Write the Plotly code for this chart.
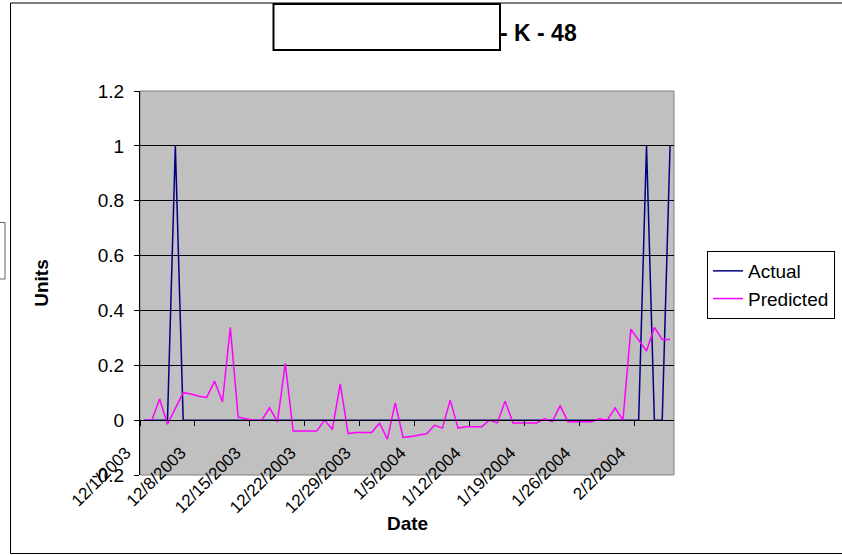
import plotly.graph_objects as go
import pandas as pd

# ---- data ----
dates = pd.date_range("2003-12-01", "2004-02-06", freq="D").strftime("%Y-%m-%d").tolist()

actual = [0, 0, 0, 0, 1, 0, 0, 0, 0, 0,
          0, 0, 0, 0, 0, 0, 0, 0, 0, 0,
          0, 0, 0, 0, 0, 0, 0, 0, 0, 0,
          0, 0, 0, 0, 0, 0, 0, 0, 0, 0,
          0, 0, 0, 0, 0, 0, 0, 0, 0, 0,
          0, 0, 0, 0, 0, 0, 0, 0, 0, 0,
          0, 0, 0, 0, 1, 0, 0, 1]

predicted = [0.0, 0.0, 0.077, -0.015, 0.043, 0.100, 0.095, 0.087, 0.083, 0.142,
             0.067, 0.338, 0.011, 0.006, 0.0, 0.0, 0.045, -0.006, 0.207, -0.040,
             -0.040, -0.040, -0.040, 0.0, -0.034, 0.132, -0.049, -0.045, -0.045, -0.045,
             -0.011, -0.069, 0.063, -0.063, -0.060, -0.056, -0.050, -0.019, -0.029, 0.073,
             -0.029, -0.024, -0.024, -0.024, 0.0, -0.010, 0.069, -0.010, -0.010, -0.010,
             -0.010, 0.005, -0.005, 0.053, -0.006, -0.006, -0.006, -0.006, 0.005, 0.0,
             0.045, 0.0, 0.332, 0.290, 0.252, 0.338, 0.294, 0.294]

tick_dates = ["2003-11-30 12:00", "2003-12-07 12:00", "2003-12-14 12:00", "2003-12-21 12:00",
              "2003-12-28 12:00", "2004-01-04 12:00", "2004-01-11 12:00", "2004-01-18 12:00",
              "2004-01-25 12:00", "2004-02-01 12:00"]
tick_labels = ["12/1/2003", "12/8/2003", "12/15/2003", "12/22/2003", "12/29/2003",
               "1/5/2004", "1/12/2004", "1/19/2004", "1/26/2004", "2/2/2004"]

y_ticks = [-0.2, 0, 0.2, 0.4, 0.6, 0.8, 1, 1.2]
y_labels = ["-0.2", "0", "0.2", "0.4", "0.6", "0.8", "1", "1.2"]

FONT = "Arial, 'Liberation Sans', sans-serif"

# plot area in pixels
W, H = 842, 555
L, R, T, B = 140, 674, 91, 475


def px2x(px):
    return (px - L) / (R - L)


def py2y(py):
    return (B - py) / (B - T)


fig = go.Figure()
fig.add_trace(go.Scatter(x=dates, y=actual, name="Actual", mode="lines",
                         line=dict(color="#000080", width=1.5), legendgroup="a"))
fig.add_trace(go.Scatter(x=dates, y=predicted, name="Predicted", mode="lines",
                         line=dict(color="#FF00FF", width=1.5), legendgroup="p"))

fig.update_layout(
    width=W, height=H, autosize=False,
    margin=dict(l=L, r=W - R, t=T, b=H - B, pad=0, autoexpand=False),
    paper_bgcolor="white", plot_bgcolor="#C0C0C0",
    font=dict(family=FONT, size=19, color="black"),
    showlegend=True,
    legend=dict(x=px2x(707), y=py2y(251), xanchor="left", yanchor="top",
                bordercolor="black", borderwidth=1, bgcolor="white",
                font=dict(family=FONT, size=19), tracegroupgap=0,
                itemwidth=30),
    xaxis=dict(type="date", range=["2003-11-30 12:00", "2004-02-06 12:00"],
               tickmode="array", tickvals=tick_dates, ticktext=tick_labels,
               tickangle=-45, anchor="free", position=0.2 / 1.4,
               showline=True, linecolor="black", linewidth=1,
               ticks="outside", ticklen=5, tickcolor="black",
               showgrid=False, zeroline=False, automargin=False,
               tickfont=dict(family=FONT, size=17),
               ticklabelshift=-14, ticklabelstandoff=10),
    yaxis=dict(range=[-0.2, 1.2], tickmode="array", tickvals=y_ticks, ticktext=y_labels,
               showline=True, linecolor="black", linewidth=1,
               ticks="outside", ticklen=5, tickcolor="black",
               showgrid=True, gridcolor="black", gridwidth=1, zeroline=False, automargin=False,
               tickfont=dict(family=FONT, size=19), ticklabelstandoff=6,
               title=dict(text="Units", font=dict(family=FONT, size=19, weight="bold"), standoff=37)),
)

shapes = [
    # plot area border
    dict(type="rect", xref="paper", yref="paper", x0=0, x1=1, y0=0, y1=1,
         line=dict(color="#808080", width=1), layer="between"),
    # outer chart border
    dict(type="rect", xref="paper", yref="paper", x0=px2x(10.5), x1=px2x(846), y0=py2y(3), y1=py2y(553.5),
         line=dict(color="black", width=1), layer="below"),
    # small stray box at left edge
    dict(type="rect", xref="paper", yref="paper", x0=px2x(-5), x1=px2x(5), y0=py2y(222.5), y1=py2y(279),
         line=dict(color="#606060", width=1), layer="below"),
    # white box covering part of the title
    dict(type="rect", xref="paper", yref="paper", x0=px2x(273.5), x1=px2x(500), y0=py2y(4), y1=py2y(50),
         line=dict(color="black", width=2), fillcolor="white", layer="above"),
]
fig.update_layout(shapes=shapes)

fig.add_annotation(text="- K - 48", xref="paper", yref="paper", x=px2x(498), y=py2y(33),
                   xanchor="left", yanchor="middle", showarrow=False,
                   font=dict(family=FONT, size=23, weight="bold", color="black"))
# x axis title
fig.add_annotation(text="Date", xref="paper", yref="paper", x=px2x(407.5), y=py2y(523),
                   xanchor="center", yanchor="middle", showarrow=False,
                   font=dict(family=FONT, size=19, weight="bold", color="black"))

fig.write_html("out.html")
